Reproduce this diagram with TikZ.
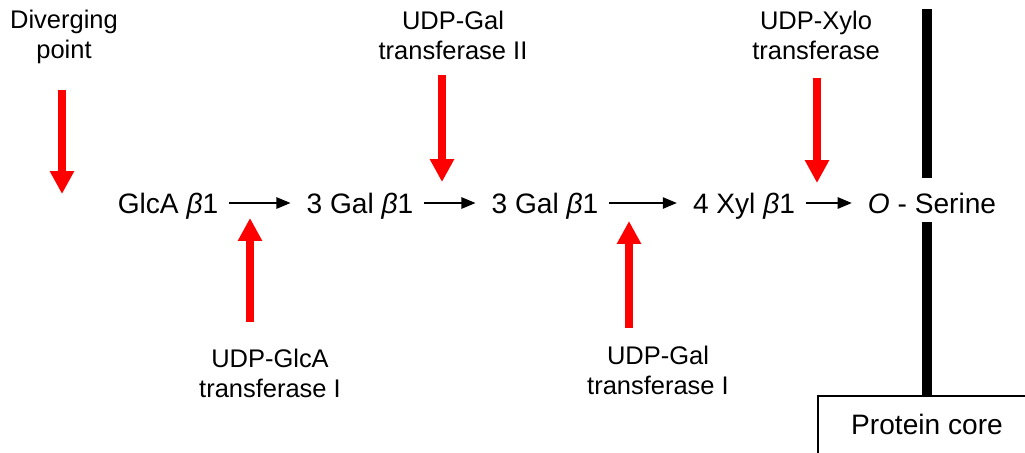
\documentclass[tikz,border=0pt]{standalone}
\usepackage{fontspec}
\setmainfont{Liberation Sans}
\usetikzlibrary{arrows.meta}

\begin{document}
\begin{tikzpicture}[x=0.2mm, y=-0.2mm,
  sugar/.style={inner xsep=0pt, inner ysep=0pt, text height=11.5pt, text depth=0pt, font=\fontsize{16}{19}\selectfont},
  enzyme/.style={align=center, inner sep=0pt, font=\fontsize{14.5}{17}\selectfont},
  link/.style={-{Triangle[length=8pt,width=6.5pt]}, line width=0.8pt, shorten <=6pt, shorten >=9pt},
  redarrow/.style={-{Triangle[length=13pt,width=13pt]}, line width=4.5pt, red},
  bar/.style={line width=6.2pt}]

\useasboundingbox (0,0) rectangle (1025,452);

% linkage region
\node[sugar] (glca) at (168,203) {GlcA {\itshape β}1};
\node[sugar] (galB) at (360,203) {3 Gal {\itshape β}1};
\node[sugar] (galA) at (545,203) {3 Gal {\itshape β}1};
\node[sugar] (xyl) at (744,203) {4 Xyl {\itshape β}1};
\node[sugar] (ser) at (932,203) {\textit{O} - Serine};

\draw[link] (glca) -- (galB);
\draw[link] (galB) -- (galA);
\draw[link] (galA) -- (xyl);
\draw[link] (xyl) -- (ser);

% enzymes
\node[enzyme] (div) at (64,37) {Diverging\\point};
\node[enzyme] (glcaT) at (270,373) {UDP-GlcA\\transferase I};
\node[enzyme] (galT2) at (453,35) {UDP-Gal\\transferase II};
\node[enzyme] (galT1) at (658,370) {UDP-Gal\\transferase I};
\node[enzyme] (xylT) at (816,35) {UDP-Xylo\\transferase};

\coordinate (div-a) at (62,90);
\coordinate (div-b) at (62,194);
\coordinate (glcaT-a) at (250,322);
\coordinate (glcaT-b) at (250,218);
\coordinate (galT2-a) at (442,75);
\coordinate (galT2-b) at (442,182);
\coordinate (galT1-a) at (629,328);
\coordinate (galT1-b) at (629,221);
\coordinate (xylT-a) at (817,78);
\coordinate (xylT-b) at (817,183);

\draw[redarrow] (div-a) -- (div-b);
\draw[redarrow] (glcaT-a) -- (glcaT-b);
\draw[redarrow] (galT2-a) -- (galT2-b);
\draw[redarrow] (galT1-a) -- (galT1-b);
\draw[redarrow] (xylT-a) -- (xylT-b);

% protein core
\node[inner sep=0pt, font=\fontsize{16}{19}\selectfont] (core) at (927,424) {Protein core};
\draw[line width=0.6pt] (818,455) |- (1030,396);

\coordinate (bar-top) at (927,9);
\coordinate (bar-up) at (927,178);
\coordinate (bar-low) at (927,222);
\coordinate (bar-foot) at (927,396);
\draw[bar] (bar-top) -- (bar-up);
\draw[bar] (bar-low) -- (bar-foot);

\end{tikzpicture}
\end{document}
